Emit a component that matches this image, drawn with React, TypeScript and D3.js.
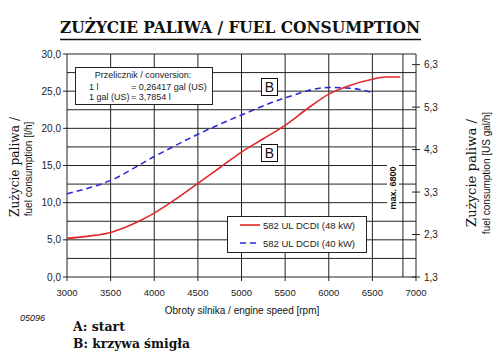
import React from "react";
import * as d3 from "d3";

const rpmTicks = [3000, 3500, 4000, 4500, 5000, 5500, 6000, 6500, 7000];
const leftTicks = [0, 5, 10, 15, 20, 25, 30];
const rightTicks = [1.3, 2.3, 3.3, 4.3, 5.3, 6.3];
const gridY = [0, 2.5, 5, 7.5, 10, 12.5, 15, 17.5, 20, 22.5, 25, 27.5, 30];
const maxLineRpm = 6850;

const rpm48 = [3000, 3250, 3500, 3750, 4000, 4250, 4500, 4750, 5000, 5250, 5500, 5750, 6000, 6250, 6500, 6650, 6820];
const fuel48 = [5.2, 5.5, 6.0, 7.1, 8.6, 10.5, 12.6, 14.7, 16.8, 18.6, 20.4, 22.6, 24.6, 25.8, 26.6, 26.9, 26.9];

const rpm40 = [3000, 3500, 4000, 4500, 5000, 5500, 6000, 6250, 6500];
const fuel40 = [11.2, 13.0, 16.2, 19.2, 21.8, 24.1, 25.5, 25.4, 24.8];

const seriesNames = ["582 UL DCDI (48 kW)", "582 UL DCDI (40 kW)"];

const fmt = (v: number) => v.toFixed(1).replace(".", ",");

export default function App() {
  const x = d3.scaleLinear().domain([3000, 7000]).range([67, 416]);
  const y = d3.scaleLinear().domain([0, 30]).range([277, 54]);
  const yR = d3.scaleLinear().domain([1.3, 6.55]).range([277, 54]);

  const line = d3
    .line<[number, number]>()
    .x((d) => x(d[0]))
    .y((d) => y(d[1]))
    .curve(d3.curveMonotoneX);

  const d48 = line(rpm48.map((r, i) => [r, fuel48[i]] as [number, number])) || "";
  const d40 = line(rpm40.map((r, i) => [r, fuel40[i]] as [number, number])) || "";

  const sans = "'Liberation Sans', Arial, sans-serif";
  const serif = "'DejaVu Serif', serif";
  const grid = "#222";

  return (
    <svg width={500} height={358} style={{ position: "absolute", left: 0, top: 0, background: "#fff" }}>
      <rect x={0} y={0} width={500} height={358} fill="#fff" />
      {/* Title */}
      <text x={240} y={33} textAnchor="middle" fontFamily={serif} fontWeight="bold" fontSize={16.5}
        textLength={360} lengthAdjust="spacingAndGlyphs" fill="#111">
        ZUŻYCIE PALIWA / FUEL CONSUMPTION
      </text>
      <line x1={60} x2={421} y1={39.5} y2={39.5} stroke="#111" strokeWidth={1.6} />

      {/* grid */}
      {gridY.map((v) => (
        <line key={"gy" + v} x1={x(3000)} x2={x(7000)} y1={y(v)} y2={y(v)} stroke={grid} strokeWidth={1} />
      ))}
      {rpmTicks.map((r) => (
        <line key={"gx" + r} x1={x(r)} x2={x(r)} y1={y(0)} y2={y(30)} stroke={grid} strokeWidth={1} />
      ))}
      <line x1={x(maxLineRpm)} x2={x(maxLineRpm)} y1={y(0)} y2={y(30)} stroke={grid} strokeWidth={1} />

      {/* left ticks */}
      {leftTicks.map((v) => (
        <g key={"lt" + v}>
          <line x1={63} x2={67} y1={y(v)} y2={y(v)} stroke={grid} />
          <text x={61} y={y(v) + 3.5} textAnchor="end" fontFamily={sans} fontSize={10} fill="#222">
            {fmt(v)}
          </text>
        </g>
      ))}
      {/* right ticks */}
      {rightTicks.map((v) => (
        <g key={"rt" + v}>
          <line x1={412} x2={420} y1={yR(v)} y2={yR(v)} stroke={grid} />
          <text x={424} y={yR(v) + 3.5} textAnchor="start" fontFamily={sans} fontSize={10} fill="#222">
            {fmt(v)}
          </text>
        </g>
      ))}
      {/* x ticks */}
      {rpmTicks.map((r) => (
        <g key={"xt" + r}>
          <line x1={x(r)} x2={x(r)} y1={277} y2={281} stroke={grid} />
          <text x={x(r)} y={296} textAnchor="middle" fontFamily={sans} fontSize={9.5} fill="#222">
            {r}
          </text>
        </g>
      ))}

      {/* Conversion box */}
      <rect x={75.5} y={67.5} width={137} height={37} fill="#fff" stroke={grid} />
      <text x={143} y={78} textAnchor="middle" fontFamily={sans} fontSize={9} fill="#222">
        Przelicznik / conversion:
      </text>
      <text x={89} y={90} fontFamily={sans} fontSize={9} fill="#222">1 l</text>
      <text x={131} y={90} fontFamily={sans} fontSize={9} fill="#222">= 0,26417 gal (US)</text>
      <text x={89} y={99.5} fontFamily={sans} fontSize={9} fill="#222">1 gal (US)</text>
      <text x={131} y={99.5} fontFamily={sans} fontSize={9} fill="#222">= 3,7854 l</text>

      {/* curves */}
      <path d={d40} fill="none" stroke="#2a2ad6" strokeWidth={1.6} strokeDasharray="6,4" />
      <path d={d48} fill="none" stroke="#e02828" strokeWidth={1.6} />

      {/* B labels */}
      <rect x={261.5} y={78.5} width={16} height={17} fill="#fff" stroke="#111" />
      <text x={269.5} y={92} textAnchor="middle" fontFamily={sans} fontSize={14} fill="#111">B</text>
      <rect x={261.5} y={144.5} width={16} height={17} fill="#fff" stroke="#111" />
      <text x={269.5} y={158} textAnchor="middle" fontFamily={sans} fontSize={14} fill="#111">B</text>

      {/* max label */}
      <rect x={387} y={164} width={12} height={48} fill="#fff" />
      <text transform={`translate(396,188) rotate(-90)`} textAnchor="middle" fontFamily={sans}
        fontWeight="bold" fontSize={9} fill="#111">
        max. 6800
      </text>

      {/* legend */}
      <rect x={227.5} y={216.5} width={139} height={36} fill="#fff" stroke={grid} />
      <line x1={240} x2={260} y1={225} y2={225} stroke="#e02828" strokeWidth={1.6} />
      <text x={263} y={228.5} fontFamily={sans} fontSize={9.5} fill="#222">{seriesNames[0]}</text>
      <line x1={240} x2={260} y1={243} y2={243} stroke="#2a2ad6" strokeWidth={1.6} strokeDasharray="6,4" />
      <text x={263} y={246.5} fontFamily={sans} fontSize={9.5} fill="#222">{seriesNames[1]}</text>

      {/* axis titles */}
      <text transform={`translate(19,167) rotate(-90)`} textAnchor="middle" fontFamily={serif} fontSize={12}
        textLength={100} lengthAdjust="spacingAndGlyphs" fill="#111">
        Zużycie paliwa /
      </text>
      <text transform={`translate(32,169) rotate(-90)`} textAnchor="middle" fontFamily={sans} fontSize={10} fill="#111">
        fuel consumption [l/h]
      </text>
      <text transform={`translate(476,173) rotate(-90)`} textAnchor="middle" fontFamily={serif} fontSize={12}
        textLength={108} lengthAdjust="spacingAndGlyphs" fill="#111">
        Zużycie paliwa /
      </text>
      <text transform={`translate(490,173) rotate(-90)`} textAnchor="middle" fontFamily={sans} fontSize={10} fill="#111">
        fuel consumption [US gal/h]
      </text>
      <text x={242} y={314} textAnchor="middle" fontFamily={sans} fontSize={10} fill="#111">
        Obroty silnika / engine speed [rpm]
      </text>

      {/* footer */}
      <text x={20} y={321} fontFamily={sans} fontStyle="italic" fontSize={9} fill="#111">05096</text>
      <text x={73} y={331} fontFamily={serif} fontWeight="bold" fontSize={12} fill="#111"
        textLength={52} lengthAdjust="spacingAndGlyphs">A: start</text>
      <text x={73} y={348} fontFamily={serif} fontWeight="bold" fontSize={12} fill="#111"
        textLength={117} lengthAdjust="spacingAndGlyphs">B: krzywa śmigła</text>
    </svg>
  );
}
